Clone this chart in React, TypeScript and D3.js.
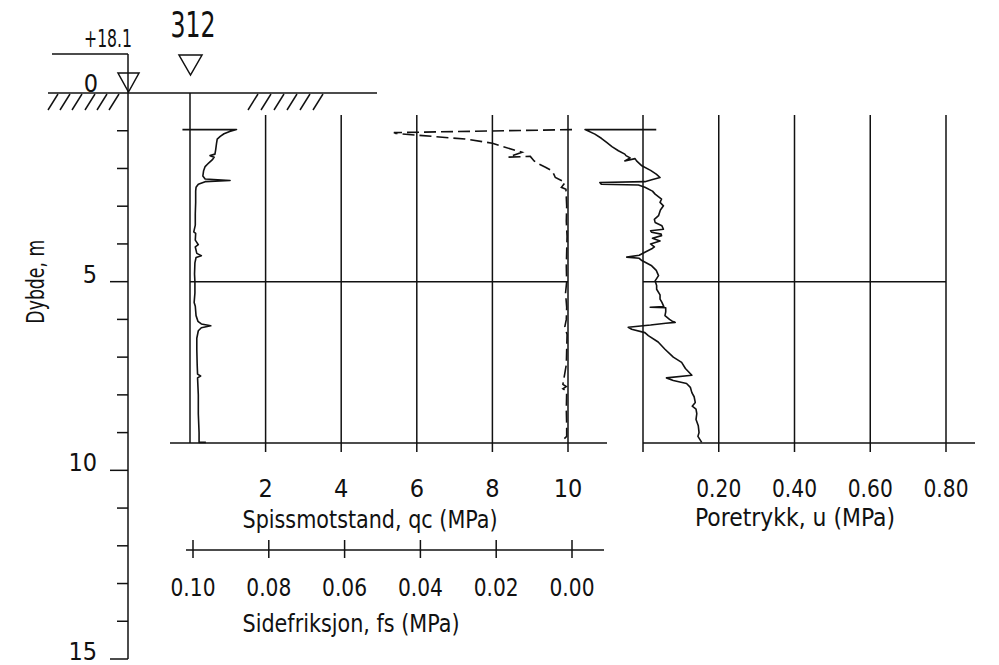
import React from 'react'
import * as d3 from 'd3'

// depth (m), cone resistance qc (MPa)
const qcProfile: [number, number][] = [
  [0.97, -0.2], [0.97, 1.23], [1.02, 1.05], [1.08, 0.9], [1.15, 0.8], [1.22, 0.72],
  [1.35, 0.7], [1.5, 0.68], [1.62, 0.66], [1.66, 0.53], [1.7, 0.64], [1.76, 0.6],
  [1.85, 0.5], [1.95, 0.4], [2.06, 0.36], [2.2, 0.34], [2.28, 0.4], [2.32, 1.06],
  [2.35, 0.4], [2.42, 0.22], [2.5, 0.16], [2.6, 0.15], [2.9, 0.15], [3.2, 0.14],
  [3.5, 0.14], [3.68, 0.1], [3.72, 0.15], [3.9, 0.14], [4.02, 0.22], [4.08, 0.14],
  [4.25, 0.18], [4.31, 0.3], [4.36, 0.16], [4.5, 0.13], [4.8, 0.12], [5.0, 0.13],
  [5.3, 0.13], [5.55, 0.11], [5.65, 0.14], [5.9, 0.16], [6.05, 0.21], [6.12, 0.3],
  [6.17, 0.55], [6.22, 0.3], [6.3, 0.22], [6.5, 0.18], [6.8, 0.18], [7.2, 0.19],
  [7.45, 0.2], [7.5, 0.28], [7.55, 0.2], [8.0, 0.22], [8.5, 0.22], [9.0, 0.24],
  [9.26, 0.24], [9.26, 0.42]
]

// depth (m), sleeve friction fs (MPa)
const fsProfile: [number, number][] = [
  [0.97, 0.0], [1.05, 0.047], [1.07, 0.0465], [1.12, 0.0405], [1.22, 0.0282],
  [1.33, 0.021], [1.4, 0.019], [1.57, 0.0132], [1.7, 0.0168], [1.68, 0.011],
  [1.8, 0.01], [1.88, 0.0088], [1.97, 0.007], [2.06, 0.0053], [2.15, 0.0048],
  [2.24, 0.0044], [2.37, 0.0018], [2.5, 0.0028], [2.55, 0.0016], [3.0, 0.0014],
  [3.4, 0.0015], [3.8, 0.0013], [4.2, 0.0014], [4.6, 0.0015], [5.0, 0.0014],
  [5.3, 0.0017], [5.68, 0.0014], [6.0, 0.0015], [6.2, 0.0019], [6.4, 0.0013],
  [6.8, 0.0014], [7.2, 0.0015], [7.72, 0.0024], [7.78, 0.0015], [7.84, 0.0024],
  [7.9, 0.0014], [8.4, 0.0015], [8.8, 0.0014], [9.1, 0.0014], [9.18, 0.0022],
  [9.26, 0.0016]
]

// depth (m), pore pressure u (MPa)
const uProfile: [number, number][] = [
  [0.97, 0.035], [0.97, -0.153], [1.09, -0.127], [1.2, -0.11], [1.31, -0.096],
  [1.42, -0.082], [1.53, -0.065], [1.62, -0.048], [1.66, -0.045], [1.72, -0.034],
  [1.8, -0.048], [1.74, -0.021], [1.8, -0.017], [1.93, -0.003], [2.05, 0.02],
  [2.15, 0.035], [2.24, 0.045], [2.3, 0.023], [2.35, 0.005], [2.37, -0.114],
  [2.42, -0.11], [2.44, -0.012], [2.5, 0.005], [2.6, 0.025], [2.68, 0.032],
  [2.81, 0.049], [2.9, 0.045], [2.99, 0.054], [3.1, 0.046], [3.25, 0.041],
  [3.35, 0.03], [3.43, 0.032], [3.52, 0.05], [3.61, 0.054], [3.65, 0.02],
  [3.69, 0.023], [3.74, 0.048], [3.78, 0.049], [3.85, 0.025], [3.92, 0.045],
  [4.0, 0.02], [4.08, 0.03], [4.13, 0.023], [4.22, 0.005], [4.3, -0.01],
  [4.35, -0.043], [4.38, -0.01], [4.44, -0.003], [4.58, 0.023], [4.7, 0.035],
  [4.84, 0.041], [4.98, 0.032], [5.1, 0.036], [5.2, 0.036], [5.35, 0.045],
  [5.46, 0.045], [5.55, 0.05], [5.66, 0.055], [5.68, 0.019], [5.69, 0.06],
  [5.8, 0.06], [5.9, 0.058], [6.0, 0.07], [6.04, 0.076], [6.08, 0.085],
  [6.1, 0.06], [6.15, 0.02], [6.21, -0.039], [6.26, -0.03], [6.35, 0.005],
  [6.43, 0.014], [6.6, 0.04], [6.79, 0.058], [7.0, 0.08], [7.14, 0.102],
  [7.3, 0.112], [7.48, 0.129], [7.55, 0.062], [7.62, 0.08], [7.7, 0.115],
  [7.8, 0.125], [7.94, 0.129], [8.05, 0.135], [8.2, 0.138], [8.3, 0.13],
  [8.38, 0.14], [8.5, 0.142], [8.65, 0.14], [8.82, 0.146], [9.0, 0.148],
  [9.1, 0.145], [9.26, 0.155]
]

const depthTicks = d3.range(1, 16)
const depthLabels = [0, 5, 10, 15]
const qcTicks = [2, 4, 6, 8, 10]
const fsTicks = [0.1, 0.08, 0.06, 0.04, 0.02, 0.0]
const uTicks = [0, 0.2, 0.4, 0.6, 0.8]
const hatchLeft = [48, 60, 72, 85, 97, 109]
const hatchRight = [248, 261, 274, 287, 300, 313]

const FONT = '"DejaVu Sans", sans-serif'
const textStyle = { fontStretch: 'condensed' as const }

export default function App() {
  const y = d3.scaleLinear().domain([0, 15]).range([93, 659])
  const xq = d3.scaleLinear().domain([0, 10]).range([190, 568])
  const xf = d3.scaleLinear().domain([0.1, 0]).range([193, 572])
  const xu = d3.scaleLinear().domain([0, 0.8]).range([643, 946])

  const axisY = 443
  const gridTop = 115
  const dBottom = y.invert(axisY)

  const qcLine = d3.line<[number, number]>().x(d => xq(d[1])).y(d => y(d[0]))
  const fsLine = d3.line<[number, number]>().x(d => xf(d[1])).y(d => y(d[0]))
  const uLine = d3.line<[number, number]>().x(d => xu(d[1])).y(d => y(d[0]))

  const stroke = '#111'
  const sw = 1.5
  const fs = 25

  return (
    <svg width={999} height={665} style={{ position: 'absolute', left: 0, top: 0, background: '#fff', ...textStyle }}
      fontFamily={FONT} fill="#111">
      {/* elevation marker */}
      <line x1={52} x2={128} y1={54} y2={54} stroke={stroke} strokeWidth={sw} />
      <text x={108} y={47} fontSize={fs} textAnchor="middle" textLength={48} lengthAdjust="spacingAndGlyphs">+18.1</text>
      <path d="M118,73 L139,73 L128.5,92 Z" fill="none" stroke={stroke} strokeWidth={sw} />
      <text x={193} y={37} fontSize={35} textAnchor="middle" textLength={45} lengthAdjust="spacingAndGlyphs">312</text>
      <path d="M179,55 L202,55 L190.5,75 Z" fill="none" stroke={stroke} strokeWidth={sw} />

      {/* ground */}
      <line x1={48} x2={377} y1={y(0)} y2={y(0)} stroke={stroke} strokeWidth={sw} />
      {hatchLeft.concat(hatchRight).map(bx => (
        <line key={bx} x1={bx} y1={y(0) + 17} x2={bx + 10} y2={y(0) + 1} stroke={stroke} strokeWidth={sw} />
      ))}

      {/* depth axis */}
      <line x1={128} x2={128} y1={54} y2={y(15)} stroke={stroke} strokeWidth={sw} />
      {depthTicks.map(d => (
        <line key={d} x1={d % 5 === 0 ? 110 : 117} x2={128} y1={y(d)} y2={y(d)} stroke={stroke} strokeWidth={sw} />
      ))}
      {depthLabels.map(d => (
        <text key={d} x={d === 0 ? 98 : 97} y={y(d) + (d === 0 ? -1 : 1)} fontSize={fs} textAnchor="end">{d}</text>
      ))}
      <text transform={`translate(44,${y(5)}) rotate(-90)`} fontSize={fs} textAnchor="middle" textLength={84} lengthAdjust="spacingAndGlyphs">Dybde, m</text>

      {/* qc / fs panel */}
      <line x1={190} x2={190} y1={y(0)} y2={axisY} stroke={stroke} strokeWidth={sw} />
      {qcTicks.map(t => (
        <line key={t} x1={xq(t)} x2={xq(t)} y1={gridTop} y2={axisY + 9} stroke={stroke} strokeWidth={sw} />
      ))}
      <line x1={xq(0)} x2={xq(10)} y1={y(5)} y2={y(5)} stroke={stroke} strokeWidth={sw} />
      <line x1={170} x2={607} y1={axisY} y2={axisY} stroke={stroke} strokeWidth={sw} />
      {qcTicks.map(t => (
        <text key={t} x={xq(t)} y={497} fontSize={fs} textAnchor="middle">{t}</text>
      ))}
      <text x={370} y={528} fontSize={fs} textAnchor="middle" textLength={255} lengthAdjust="spacingAndGlyphs">Spissmotstand, qc (MPa)</text>

      <line x1={186} x2={604} y1={550} y2={550} stroke={stroke} strokeWidth={sw} />
      {fsTicks.map(t => (
        <line key={t} x1={xf(t)} x2={xf(t)} y1={540} y2={558} stroke={stroke} strokeWidth={sw} />
      ))}
      {fsTicks.map(t => (
        <text key={t} x={xf(t)} y={596} fontSize={fs} textAnchor="middle" textLength={45} lengthAdjust="spacingAndGlyphs">{t.toFixed(2)}</text>
      ))}
      <text x={351} y={632} fontSize={fs} textAnchor="middle" textLength={217} lengthAdjust="spacingAndGlyphs">Sidefriksjon, fs (MPa)</text>

      <path d={qcLine(qcProfile.filter(p => p[0] <= dBottom + 0.01)) || ''} fill="none" stroke={stroke} strokeWidth={1.6} strokeLinejoin="round" />
      <path d={fsLine(fsProfile) || ''} fill="none" stroke={stroke} strokeWidth={1.6} strokeDasharray="12 5" />

      {/* u panel */}
      {uTicks.map(t => (
        <line key={t} x1={xu(t)} x2={xu(t)} y1={gridTop} y2={axisY + 9} stroke={stroke} strokeWidth={sw} />
      ))}
      <line x1={xu(0)} x2={xu(0.8)} y1={y(5)} y2={y(5)} stroke={stroke} strokeWidth={sw} />
      <line x1={643} x2={975} y1={axisY} y2={axisY} stroke={stroke} strokeWidth={sw} />
      {uTicks.filter(t => t > 0).map(t => (
        <text key={t} x={xu(t)} y={497} fontSize={fs} textAnchor="middle" textLength={45} lengthAdjust="spacingAndGlyphs">{t.toFixed(2)}</text>
      ))}
      <text x={795} y={526} fontSize={fs} textAnchor="middle" textLength={200} lengthAdjust="spacingAndGlyphs">Poretrykk, u (MPa)</text>
      <path d={uLine(uProfile) || ''} fill="none" stroke={stroke} strokeWidth={1.6} strokeLinejoin="round" />
    </svg>
  )
}
